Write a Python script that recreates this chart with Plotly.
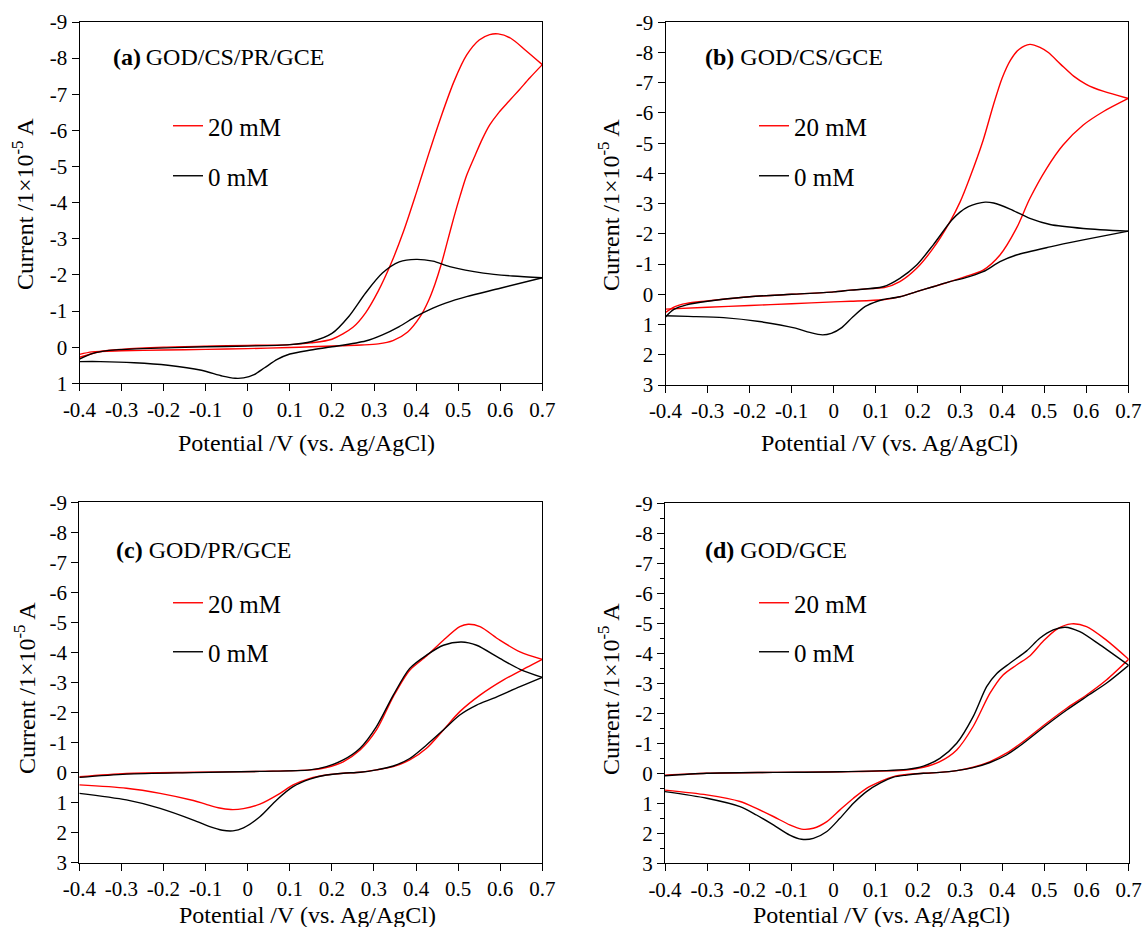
import plotly.graph_objects as go

# ---------------- data (potential in V, current in 1e-5 A) ----------------
A_RED_E = [-0.40, -0.35, -0.30, -0.20, -0.10, 0.00, 0.10, 0.15, 0.20, 0.25, 0.28, 0.31, 0.34, 0.37, 0.40, 0.43, 0.46, 0.49, 0.52, 0.55, 0.575, 0.595, 0.625, 0.66, 0.70,
           0.67, 0.645, 0.62, 0.597, 0.575, 0.557, 0.54, 0.52, 0.505, 0.49, 0.475, 0.46, 0.445, 0.43, 0.41, 0.38, 0.345, 0.31, 0.27, 0.22, 0.15, 0.10, 0.00, -0.10, -0.20, -0.30, -0.37, -0.40]
A_RED_I = [0.28, 0.12, 0.06, 0.00, -0.03, -0.05, -0.07, -0.12, -0.22, -0.55, -0.95, -1.55, -2.30, -3.20, -4.25, -5.35, -6.40, -7.35, -8.08, -8.50, -8.65, -8.67, -8.55, -8.22, -7.82,
           -7.45, -7.12, -6.80, -6.50, -6.15, -5.75, -5.30, -4.75, -4.20, -3.60, -2.95, -2.30, -1.75, -1.30, -0.85, -0.42, -0.18, -0.09, -0.06, -0.04, -0.01, 0.01, 0.04, 0.06, 0.08, 0.10, 0.13, 0.20]
A_BLK_E = [-0.40, -0.37, -0.33, -0.25, -0.10, 0.00, 0.10, 0.15, 0.20, 0.24, 0.28, 0.32, 0.36, 0.40, 0.44, 0.48, 0.56, 0.63, 0.70,
           0.60, 0.52, 0.47, 0.44, 0.40, 0.36, 0.32, 0.28, 0.20, 0.15, 0.10, 0.07, 0.04, 0.015, -0.01, -0.03, -0.06, -0.11, -0.19, -0.27, -0.35, -0.40]
A_BLK_I = [0.33, 0.18, 0.09, 0.04, -0.01, -0.03, -0.07, -0.15, -0.38, -0.85, -1.50, -2.05, -2.36, -2.43, -2.38, -2.23, -2.05, -1.97, -1.92,
           -1.63, -1.40, -1.22, -1.08, -0.85, -0.57, -0.34, -0.17, -0.01, 0.08, 0.19, 0.34, 0.57, 0.76, 0.85, 0.86, 0.80, 0.64, 0.50, 0.43, 0.40, 0.40]

B_RED_E = [-0.40, -0.38, -0.35, -0.30, -0.20, -0.10, 0.00, 0.04, 0.10, 0.12, 0.157, 0.197, 0.236, 0.276, 0.30, 0.323, 0.355, 0.379, 0.40, 0.42, 0.44, 0.466, 0.49, 0.51, 0.54, 0.57, 0.60, 0.64, 0.70,
           0.64, 0.593, 0.545, 0.506, 0.466, 0.434, 0.395, 0.355, 0.316, 0.276, 0.236, 0.197, 0.157, 0.117, 0.04, 0.00, -0.10, -0.20, -0.30, -0.40]
B_RED_I = [0.60, 0.42, 0.30, 0.22, 0.08, 0.00, -0.08, -0.14, -0.20, -0.22, -0.42, -0.86, -1.52, -2.40, -3.05, -3.85, -5.10, -6.25, -7.15, -7.75, -8.10, -8.27, -8.17, -8.00, -7.60, -7.22, -6.95, -6.72, -6.48,
           -6.04, -5.60, -4.94, -4.17, -3.17, -2.18, -1.30, -0.80, -0.60, -0.42, -0.25, -0.09, 0.08, 0.18, 0.23, 0.25, 0.31, 0.37, 0.43, 0.49]
B_BLK_E = [-0.40, -0.38, -0.35, -0.30, -0.20, -0.10, 0.00, 0.04, 0.117, 0.157, 0.197, 0.236, 0.28, 0.30, 0.32, 0.34, 0.36, 0.38, 0.419, 0.466, 0.514, 0.593, 0.70,
           0.593, 0.514, 0.434, 0.395, 0.355, 0.308, 0.276, 0.236, 0.197, 0.157, 0.117, 0.105, 0.075, 0.045, 0.019, -0.006, -0.027, -0.057, -0.091, -0.177, -0.262, -0.347, -0.40]
B_BLK_I = [0.75, 0.50, 0.35, 0.23, 0.08, 0.00, -0.08, -0.14, -0.25, -0.53, -0.97, -1.63, -2.45, -2.72, -2.90, -3.00, -3.05, -3.02, -2.82, -2.51, -2.31, -2.18, -2.09,
           -1.80, -1.57, -1.30, -1.08, -0.75, -0.53, -0.42, -0.25, -0.09, 0.08, 0.17, 0.22, 0.40, 0.75, 1.10, 1.29, 1.34, 1.26, 1.12, 0.90, 0.77, 0.73, 0.71]

C_RED_E = [-0.40, -0.288, -0.129, 0.029, 0.148, 0.187, 0.227, 0.267, 0.306, 0.346, 0.385, 0.425, 0.465, 0.504, 0.524, 0.552, 0.599, 0.647, 0.70,
           0.663, 0.607, 0.552, 0.504, 0.465, 0.425, 0.385, 0.346, 0.306, 0.267, 0.227, 0.187, 0.148, 0.108, 0.077, 0.029, -0.010, -0.040, -0.070, -0.100, -0.129, -0.208, -0.288, -0.40]
C_RED_I = [0.14, 0.03, -0.01, -0.04, -0.09, -0.17, -0.36, -0.75, -1.42, -2.53, -3.41, -3.88, -4.41, -4.86, -4.94, -4.86, -4.41, -4.02, -3.77,
           -3.50, -3.08, -2.58, -2.03, -1.42, -0.81, -0.42, -0.20, -0.09, -0.01, 0.02, 0.08, 0.19, 0.41, 0.69, 1.05, 1.20, 1.23, 1.17, 1.05, 0.93, 0.69, 0.52, 0.41]
C_BLK_E = [-0.40, -0.288, -0.129, 0.029, 0.148, 0.187, 0.227, 0.267, 0.306, 0.346, 0.385, 0.425, 0.465, 0.508, 0.544, 0.599, 0.647, 0.70,
           0.647, 0.583, 0.544, 0.504, 0.465, 0.425, 0.385, 0.346, 0.306, 0.267, 0.227, 0.187, 0.148, 0.108, 0.069, 0.029, -0.010, -0.035, -0.060, -0.090, -0.129, -0.208, -0.288, -0.40]
C_BLK_I = [0.16, 0.05, 0.00, -0.04, -0.09, -0.20, -0.42, -0.81, -1.53, -2.58, -3.47, -3.91, -4.24, -4.35, -4.24, -3.80, -3.44, -3.17,
           -2.86, -2.47, -2.25, -1.92, -1.42, -0.92, -0.47, -0.22, -0.09, -0.01, 0.02, 0.08, 0.22, 0.47, 0.91, 1.47, 1.84, 1.94, 1.92, 1.80, 1.58, 1.19, 0.91, 0.69]

D_RED_E = [-0.40, -0.301, -0.143, 0.015, 0.173, 0.213, 0.252, 0.292, 0.331, 0.371, 0.402, 0.434, 0.466, 0.497, 0.529, 0.564, 0.600, 0.647, 0.70,
           0.647, 0.600, 0.553, 0.505, 0.450, 0.410, 0.371, 0.331, 0.292, 0.252, 0.213, 0.173, 0.142, 0.110, 0.078, 0.047, 0.015, -0.016, -0.048, -0.076, -0.104, -0.143, -0.183, -0.222, -0.301, -0.40]
D_RED_I = [0.06, 0.00, -0.03, -0.05, -0.11, -0.20, -0.39, -0.78, -1.56, -2.67, -3.28, -3.61, -3.92, -4.40, -4.80, -4.98, -4.89, -4.44, -3.80,
           -3.11, -2.61, -2.17, -1.67, -1.06, -0.67, -0.39, -0.20, -0.09, -0.03, 0.00, 0.04, 0.11, 0.28, 0.50, 0.83, 1.22, 1.61, 1.83, 1.86, 1.72, 1.44, 1.17, 0.94, 0.72, 0.56]
D_BLK_E = [-0.40, -0.301, -0.143, 0.015, 0.173, 0.213, 0.252, 0.292, 0.331, 0.363, 0.387, 0.418, 0.458, 0.489, 0.521, 0.549, 0.584, 0.632, 0.70,
           0.647, 0.600, 0.553, 0.505, 0.450, 0.410, 0.371, 0.331, 0.292, 0.252, 0.213, 0.173, 0.142, 0.110, 0.078, 0.047, 0.015, -0.016, -0.048, -0.076, -0.104, -0.143, -0.183, -0.222, -0.301, -0.40]
D_BLK_I = [0.08, 0.00, -0.03, -0.05, -0.13, -0.24, -0.50, -1.00, -1.89, -2.89, -3.33, -3.67, -4.08, -4.50, -4.78, -4.87, -4.72, -4.28, -3.60,
           -3.00, -2.56, -2.11, -1.61, -1.00, -0.61, -0.36, -0.19, -0.09, -0.03, 0.00, 0.06, 0.13, 0.33, 0.61, 1.00, 1.50, 1.94, 2.17, 2.20, 2.06, 1.72, 1.39, 1.11, 0.83, 0.61]

PANEL_LABELS = ["(a)", "(b)", "(c)", "(d)"]
ELECTRODES = ["GOD/CS/PR/GCE", "GOD/CS/GCE", "GOD/PR/GCE", "GOD/GCE"]
SERIES_NAMES = ["20 mM", "0 mM"]
SERIES_COLORS = ["#ff0000", "#000000"]
X_TICKS = [-0.4, -0.3, -0.2, -0.1, 0.0, 0.1, 0.2, 0.3, 0.4, 0.5, 0.6, 0.7]
X_TICKTEXT = ["-0.4", "-0.3", "-0.2", "-0.1", "0", "0.1", "0.2", "0.3", "0.4", "0.5", "0.6", "0.7"]
Y_TICKS_A = list(range(-9, 2))
Y_TICKS_BCD = list(range(-9, 4))
X_TITLE = "Potential /V (vs. Ag/AgCl)"
Y_TITLE = "Current /1×10<sup>-5</sup> A"

# ---------------- layout geometry (pixels) ----------------
W, H = 1143, 927
FONT = "Liberation Serif, Times New Roman, serif"

def fx(p):
    return p / W

def fy(p):
    return 1 - p / H

panels = [
    dict(curves=[(A_RED_E, A_RED_I), (A_BLK_E, A_BLK_I)], xpx=(79.5, 542.3), ypx=(22.0, 383.3), yt=Y_TICKS_A,
         label=(111, 57), leg=(168, 126, 176), xt=(306, 443), ytl=(23, 204), minor=False),
    dict(curves=[(B_RED_E, B_RED_I), (B_BLK_E, B_BLK_I)], xpx=(665.5, 1128.3), ypx=(22.3, 385.0), yt=Y_TICKS_BCD,
         label=(703, 57), leg=(754, 126, 176), xt=(889, 443), ytl=(609, 205), minor=False),
    dict(curves=[(C_RED_E, C_RED_I), (C_BLK_E, C_BLK_I)], xpx=(79.3, 542.3), ypx=(502.3, 862.7), yt=Y_TICKS_BCD,
         label=(114, 550), leg=(168, 603, 652), xt=(307, 915), ytl=(25, 688), minor=False),
    dict(curves=[(D_RED_E, D_RED_I), (D_BLK_E, D_BLK_I)], xpx=(665.0, 1128.7), ypx=(503.3, 863.3), yt=Y_TICKS_BCD,
         label=(703, 550), leg=(754, 603, 652), xt=(881, 915), ytl=(609, 689), minor=True),
]

fig = go.Figure()
annotations = []
layout = dict(width=W, height=H, margin=dict(l=0, r=0, t=0, b=0, autoexpand=False), paper_bgcolor="white",
              plot_bgcolor="white", showlegend=True)

for i, p in enumerate(panels):
    n = i + 1
    sfx = "" if n == 1 else str(n)
    xa, ya = "x" + sfx, "y" + sfx
    for j, (E, I) in enumerate(p["curves"]):
        k = E.index(max(E))
        legname = "legend" if (2 * i + j) == 0 else "legend%d" % (2 * i + j + 1)
        for part, (xs, ys) in enumerate([(E[:k + 1], I[:k + 1]), (E[k:], I[k:])]):
            fig.add_trace(go.Scatter(
                x=xs, y=ys, mode="lines", xaxis=xa, yaxis=ya,
                line=dict(color=SERIES_COLORS[j], width=1.4, shape="spline", smoothing=0.8),
                name=SERIES_NAMES[j], legend=legname, showlegend=(part == 0),
                hoverinfo="skip"))
        layout[legname] = dict(
            x=fx(p["leg"][0]), y=fy(p["leg"][1 + j]), xanchor="left", yanchor="middle",
            bgcolor="rgba(0,0,0,0)", borderwidth=0, itemwidth=30,
            font=dict(family=FONT, size=25, color="black"))
    axis_common = dict(showline=True, linecolor="black", linewidth=1, mirror=True,
                       ticks="outside", ticklen=7, tickwidth=1, tickcolor="black",
                       showgrid=False, zeroline=False, automargin=False,
                       tickfont=dict(family=FONT, size=21, color="black"))
    xkey = "xaxis" + sfx
    ykey = "yaxis" + sfx
    layout[xkey] = dict(axis_common, domain=[fx(p["xpx"][0]), fx(p["xpx"][1])],
                        range=[-0.4, 0.7], tickmode="array", tickvals=X_TICKS,
                        ticktext=X_TICKTEXT, anchor=ya)
    yt = p["yt"]
    ydict = dict(axis_common, domain=[fy(p["ypx"][1]), fy(p["ypx"][0])],
                 range=[yt[-1], yt[0]], tickmode="array", tickvals=yt,
                 ticktext=[str(v) for v in yt], anchor=xa)
    if p["minor"]:
        ydict["minor"] = dict(ticks="outside", ticklen=4, tickcolor="black", tickwidth=1,
                              tickvals=[v + 0.5 for v in yt[:-1]], showgrid=False)
    layout[ykey] = ydict
    annotations.append(dict(
        text="<b>%s</b>%s%s" % (PANEL_LABELS[i], "\u2009" if n == 1 else " ", ELECTRODES[i]),
        xref="paper", yref="paper", x=fx(p["label"][0]), y=fy(p["label"][1]),
        xanchor="left", yanchor="middle", showarrow=False,
        font=dict(family=FONT, size=24, color="black")))
    annotations.append(dict(
        text=X_TITLE, xref="paper", yref="paper", x=fx(p["xt"][0]), y=fy(p["xt"][1]),
        xanchor="center", yanchor="middle", showarrow=False,
        font=dict(family=FONT, size=24, color="black")))
    annotations.append(dict(
        text=Y_TITLE, xref="paper", yref="paper", x=fx(p["ytl"][0]), y=fy(p["ytl"][1]),
        xanchor="center", yanchor="middle", showarrow=False, textangle=-90,
        font=dict(family=FONT, size=24, color="black")))

layout["annotations"] = annotations
fig.update_layout(**layout)
fig.write_html("out.html")
